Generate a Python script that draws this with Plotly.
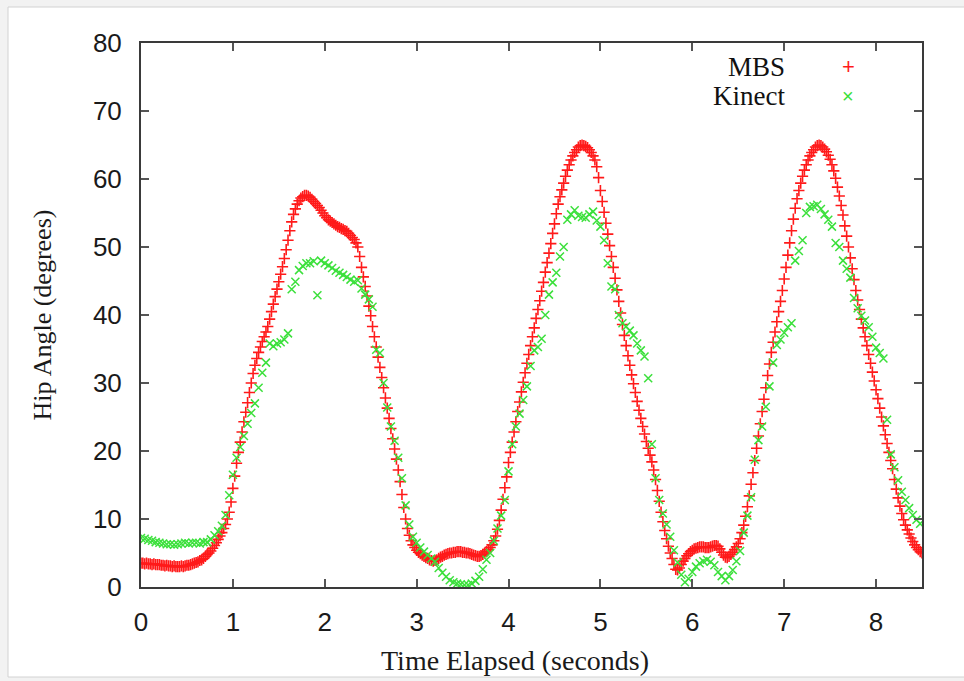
import numpy as np
import plotly.graph_objects as go

# ---------------- data ----------------
mbs_dt = 0.02
mbs_angle = [
    3.5,3.5,3.4,3.5,3.4,3.4,3.3,3.4,3.3,3.3,
    3.3,3.2,3.2,3.1,3.2,3.1,3.1,3.0,3.1,3.0,
    3.0,3.0,3.1,3.0,3.1,3.2,3.2,3.3,3.4,3.5,
    3.6,3.7,3.9,4.0,4.2,4.5,4.8,5.0,5.3,5.7,
    6.1,6.5,7.0,7.5,8.0,8.6,9.2,10.0,11.0,12.5,
    14.5,16.3,18.2,19.8,21.3,22.8,24.3,25.7,27.1,28.6,
    30.0,31.4,32.6,33.6,34.5,35.3,36.1,36.8,37.5,38.3,
    39.4,40.5,41.6,42.7,43.8,44.9,46.0,47.1,48.3,49.6,
    51.0,52.4,53.7,54.8,55.6,56.3,56.8,57.2,57.4,57.6,
    57.6,57.5,57.3,57.0,56.7,56.4,56.1,55.8,55.4,55.0,
    54.6,54.3,54.0,53.8,53.6,53.4,53.2,53.0,52.9,52.7,
    52.6,52.4,52.3,52.0,51.7,51.4,51.1,50.6,50.0,48.6,
    47.0,45.6,44.2,42.8,41.3,39.9,38.3,36.8,35.3,33.8,
    32.3,30.8,29.3,27.8,26.3,24.8,23.3,21.8,20.3,18.8,
    17.2,15.5,13.6,11.7,10.0,8.6,7.6,6.8,6.2,5.8,
    5.4,5.1,4.9,4.7,4.5,4.3,4.2,4.0,3.9,3.8,
    3.9,4.0,4.2,4.4,4.5,4.7,4.8,4.9,5.0,5.0,
    5.1,5.1,5.2,5.2,5.2,5.1,5.1,5.0,5.0,4.9,
    4.8,4.7,4.6,4.5,4.5,4.6,4.8,5.0,5.2,5.5,
    5.8,6.2,6.8,7.5,8.5,9.8,11.3,12.9,14.6,16.2,
    18.3,19.8,21.3,22.8,24.3,25.8,27.2,28.7,30.1,31.5,
    32.9,34.2,35.5,36.8,38.1,39.5,40.8,42.1,43.5,44.8,
    46.3,47.7,49.1,50.5,52.0,53.4,54.9,56.3,57.4,58.4,
    59.4,60.4,61.3,62.1,62.8,63.4,63.9,64.3,64.7,64.9,
    65.0,64.9,64.8,64.6,64.3,63.9,63.4,62.8,61.8,60.2,
    58.3,56.7,55.1,53.5,51.9,50.2,48.6,47.0,45.4,43.7,
    42.0,40.3,38.6,37.0,35.5,34.0,32.6,31.2,29.9,28.6,
    27.3,26.0,24.8,23.6,22.5,21.4,20.4,19.4,18.4,17.2,
    15.8,14.2,12.6,11.0,9.6,8.3,7.1,6.0,5.0,4.2,
    3.3,2.6,2.5,2.8,3.3,3.8,4.2,4.6,4.9,5.2,
    5.4,5.6,5.7,5.8,5.9,5.9,5.9,5.8,5.8,5.8,
    5.9,6.0,6.1,6.1,6.0,5.6,5.1,4.7,4.4,4.3,
    4.5,4.8,5.1,5.5,5.9,6.4,7.1,8.0,9.1,10.4,
    11.8,13.4,15.1,16.8,18.6,20.4,22.2,24.0,25.8,27.6,
    29.3,31.1,32.8,34.5,36.0,37.5,39.0,40.5,42.0,43.6,
    45.3,47.0,48.8,50.6,52.4,54.1,55.7,57.1,58.3,59.4,
    60.4,61.3,62.1,62.8,63.4,63.9,64.3,64.7,64.9,65.0,
    64.9,64.7,64.4,64.0,63.5,62.9,62.1,61.2,60.1,58.8,
    57.5,56.1,54.7,53.1,51.6,50.0,48.4,46.8,45.2,43.6,
    42.2,40.8,39.4,38.1,36.8,35.5,34.2,32.9,31.6,30.3,
    29.0,27.7,26.3,25.0,23.7,22.4,21.1,19.8,18.6,17.4,
    15.8,14.4,13.1,11.9,10.8,9.9,9.1,8.4,7.8,7.2,
    6.7,6.2,5.8,5.5,5.2,5.0,
]

kinect_dt = 0.04
kinect_angle = [
    7.2,7.1,6.9,6.8,6.6,6.5,6.4,6.3,6.3,6.2,
    6.3,6.4,6.5,6.4,6.5,6.5,6.4,6.6,6.6,7.0,
    7.6,8.2,9.0,10.6,13.5,16.5,19.0,20.6,22.2,24.0,
    25.6,27.0,29.3,31.5,33.0,35.8,35.4,35.8,36.0,36.4,
    37.3,43.8,44.9,46.6,47.2,47.6,47.6,47.9,42.9,48.0,
    47.6,47.3,46.9,46.5,46.2,45.9,45.6,45.2,44.9,45.1,
    43.9,43.0,42.3,41.2,34.9,34.4,30.0,26.4,23.6,21.5,
    19.0,16.0,12.0,9.2,7.4,6.5,5.8,5.2,4.7,4.2,
    3.7,2.8,2.1,1.5,1.0,0.7,0.5,0.4,0.3,0.3,
    0.5,0.9,1.5,2.6,4.0,5.0,6.8,8.6,10.5,12.8,
    17.0,21.0,23.6,25.5,27.5,29.5,32.5,34.8,35.3,36.5,
    40.0,43.0,44.8,46.2,48.6,50.0,54.0,54.8,55.4,54.6,
    54.4,54.3,54.8,55.2,53.9,53.0,51.0,47.6,44.2,43.8,
    40.0,38.8,38.3,37.7,37.0,35.8,34.8,33.9,30.7,21.0,
    16.0,12.8,10.8,9.2,7.4,5.4,3.6,1.8,0.7,1.2,
    2.2,3.0,3.5,3.8,4.0,3.7,3.2,2.2,1.6,1.0,
    1.6,2.5,3.8,5.3,8.0,10.5,13.2,18.7,21.6,23.6,
    26.5,29.5,33.0,35.6,36.4,37.4,38.2,38.8,48.0,49.4,
    51.0,55.0,55.9,56.0,56.2,55.6,54.8,54.0,53.0,50.6,
    50.0,48.0,46.8,45.5,42.5,41.0,39.9,39.2,38.2,36.8,
    35.2,34.4,33.6,24.6,19.5,17.6,15.7,14.0,12.8,11.6,
    10.6,9.9,9.3,
]

x_ticks = [0, 1, 2, 3, 4, 5, 6, 7, 8]
y_ticks = [0, 10, 20, 30, 40, 50, 60, 70, 80]
series_names = ["MBS", "Kinect"]
x_title = "Time Elapsed (seconds)"
y_title = "Hip Angle (degrees)"

mbs_time = np.round(np.arange(len(mbs_angle)) * mbs_dt, 3)
kinect_time = np.round(np.arange(len(kinect_angle)) * kinect_dt, 3)

# ---------------- figure ----------------
W, H = 964, 681
L, R, T, B = 141, 42, 43, 94
pw, ph = W - L - R, H - T - B

RED = "#ff1a1a"
GREEN = "#3be03b"

fig = go.Figure()
fig.add_trace(go.Scatter(
    x=mbs_time, y=mbs_angle, mode="markers", name=series_names[0],
    marker=dict(symbol="cross-thin", size=8, color=RED,
                line=dict(color=RED, width=1.6)),
    showlegend=False,
))
fig.add_trace(go.Scatter(
    x=kinect_time, y=kinect_angle, mode="markers", name=series_names[1],
    marker=dict(symbol="x-thin", size=8, color=GREEN,
                line=dict(color=GREEN, width=1.5)),
    showlegend=False,
))

def px2paper_x(px):
    return (px - L) / pw

def px2paper_y(py):
    return (H - B - py) / ph

# outer screenshot frame
fig.add_shape(type="rect", xref="paper", yref="paper",
              x0=px2paper_x(8), x1=px2paper_x(970),
              y0=px2paper_y(677), y1=px2paper_y(7),
              fillcolor="white", line=dict(color="#d2d2d2", width=1),
              layer="below")

serif = "Liberation Serif, Times New Roman, serif"
sans = "Liberation Sans, Arial, sans-serif"

# legend (gnuplot style: text right, sample to the right)
legend_rows = [(series_names[0], 67, "+", RED, 22), (series_names[1], 96, "×", GREEN, 20)]
for name, py, sym, col, sz in legend_rows:
    fig.add_annotation(x=px2paper_x(787), y=px2paper_y(py), xref="paper", yref="paper",
                       text=name, showarrow=False, xanchor="right", yanchor="middle",
                       font=dict(family=serif, size=27, color="#111"))
    fig.add_annotation(x=px2paper_x(848), y=px2paper_y(py), xref="paper", yref="paper",
                       text=sym, showarrow=False, xanchor="center", yanchor="middle",
                       font=dict(family=sans, size=sz, color=col))

# x axis title (positioned as in the reference, slightly left of centre)
fig.add_annotation(x=px2paper_x(515), y=px2paper_y(660), xref="paper", yref="paper",
                   text=x_title, showarrow=False, xanchor="center", yanchor="middle",
                   font=dict(family=serif, size=28, color="#1a1a1a"))

axis_common = dict(
    showline=True, linecolor="#3a3a3a", linewidth=2, mirror="ticks",
    ticks="inside", ticklen=8, tickwidth=1.5, tickcolor="#555",
    showgrid=False, zeroline=False,
    tickfont=dict(family=sans, size=26, color="#1a1a1a"),
)

fig.update_layout(
    width=W, height=H,
    margin=dict(l=L, r=R, t=T, b=B),
    paper_bgcolor="#f2f2f2", plot_bgcolor="white",
    showlegend=False,
    xaxis=dict(range=[0, 8.5], tickvals=x_ticks, ticktext=[str(v) for v in x_ticks],
               ticklabelstandoff=11,
               **axis_common),
    yaxis=dict(range=[0, 80], tickvals=y_ticks, ticktext=[str(v) for v in y_ticks],
               ticklabelstandoff=12,
               title=dict(text=y_title, font=dict(family=serif, size=26, color="#1a1a1a"),
                          standoff=34),
               **axis_common),
)

fig.write_html(
    "out.html",
    config={"displayModeBar": False},
    post_script="document.body.style.margin='0';document.body.style.background='#f2f2f2';",
)
